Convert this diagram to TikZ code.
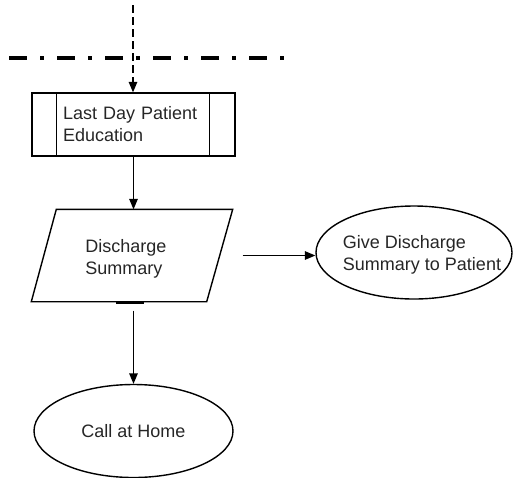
\documentclass[tikz,border=0pt]{standalone}
\usepackage{fontspec}
\setmainfont{Liberation Sans}
\usetikzlibrary{arrows,shapes.geometric}

\begin{document}
\begin{tikzpicture}[x=1pt,y=-1pt,line width=1.4pt,
  font=\fontsize{18}{22}\selectfont,
  every node/.style={text=black!85},
  box/.style={draw,rectangle,minimum width=203pt,minimum height=63pt,
    text width=141pt,align=left,inner xsep=31pt},
  slant/.style={rectangle,minimum width=200pt,minimum height=91pt},
  oval/.style={draw,ellipse,inner sep=0pt},
  arr/.style={-triangle 45}]
\useasboundingbox (0,0) rectangle (516,477);
%
\node (edu) [box] at (133.5,124.5) {Last Day Patient\\Education};
\node (disch) [slant,
  label={[align=left,xshift=-6pt,yshift=-3pt]center:Discharge\\Summary}] at (132,255.5) {};
\node (give) [oval,minimum width=196pt,minimum height=93pt,
  label={[align=left,xshift=8pt,yshift=-2pt]center:Give Discharge\\Summary to Patient}] at (414,252.5) {};
\node (home) [oval,minimum width=199pt,minimum height=93pt] at (133.5,431) {Call at Home};
\coordinate (top) at (133,5);
\coordinate (sepl) at (9,58);
\coordinate (sepr) at (284,58);

\draw [line width=4pt,dash pattern=on 18pt off 13pt on 4pt off 13pt] (sepl) -- (sepr);
\draw [arr,dash pattern=on 8pt off 4pt] (top) -- (top |- edu.north);
\draw ([xshift=25pt]edu.north west) -- ([xshift=25pt]edu.south west);
\draw ([xshift=-26pt]edu.north east) -- ([xshift=-26pt]edu.south east);
% slanted input box
\draw (disch.south west) -- ([xshift=-26pt]disch.south east)
  -- (disch.north east) -- ([xshift=25pt]disch.north west) -- cycle;
\draw [arr] (edu.south) -- (edu.south |- disch.north);
\draw [arr] ([xshift=10pt]disch.east) -- (give.west |- disch.east);
\draw [line width=2.5pt] ([yshift=-1pt]disch.south -| home.north) ++(-18,0) -- ++(28,0);
\draw [arr,shorten <=9pt] (home.north |- disch.south) -- (home.north);
\end{tikzpicture}
\end{document}
